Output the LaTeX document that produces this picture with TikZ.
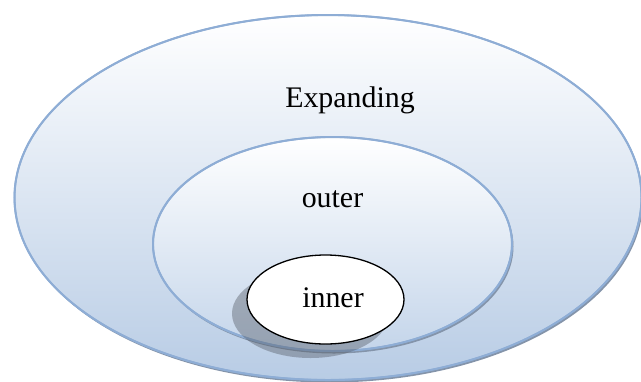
\documentclass[tikz,border=0pt]{standalone}
\usepackage{fontspec}
\setmainfont{Liberation Serif}
\definecolor{rimblue}{RGB}{142,173,213}
\definecolor{fillbot}{RGB}{184,204,229}
\definecolor{midbot}{RGB}{196,213,234}
\definecolor{rimshade}{RGB}{132,148,170}
\definecolor{dropgray}{RGB}{80,86,96}
\tikzset{
  ring/.style={draw=rimblue, line width=1.8bp, top color=white},
  ringshadow/.style={fill=rimshade},
  label/.style={anchor=base, inner sep=0pt, font=\fontsize{30}{36}\selectfont},
}
\begin{document}
\begin{tikzpicture}[x=1bp,y=-1bp]
  \useasboundingbox (0,0) rectangle (641,381);
  % centres of the three rings
  \coordinate (cbig) at (328,197.5);
  \coordinate (cmid) at (332.5,244);
  \coordinate (csmall) at (325.5,299.5);

  % outer ring with its soft rim shadow
  \fill[ringshadow] ([shift={(1.5,2.5)}]cbig) ellipse (313.5 and 182.5);
  \shade[ring, bottom color=fillbot] (cbig) ellipse (313.5 and 182.5);
  \draw[rimblue, line width=2bp] (cbig) ellipse (313.5 and 182.5);

  % middle ring
  \fill[ringshadow] ([shift={(1.5,2.5)}]cmid) ellipse (179.5 and 107);
  \shade[ring, bottom color=midbot] (cmid) ellipse (179.5 and 107);
  \draw[rimblue, line width=2bp] (cmid) ellipse (179.5 and 107);

  % inner ring with a grey drop shadow down-left
  \fill[dropgray, opacity=0.4] ([shift={(-15,14)}]csmall) ellipse (78.5 and 44.5);
  \filldraw[fill=white, draw=black, line width=1.3bp] (csmall) ellipse (78.5 and 44.5);

  % captions
  \node[label] (expanding) at (350,107) {Expanding};
  \node[label] (outer) at (332.5,207) {outer};
  \node[label] (inner) at (333,307) {inner};
\end{tikzpicture}
\end{document}
